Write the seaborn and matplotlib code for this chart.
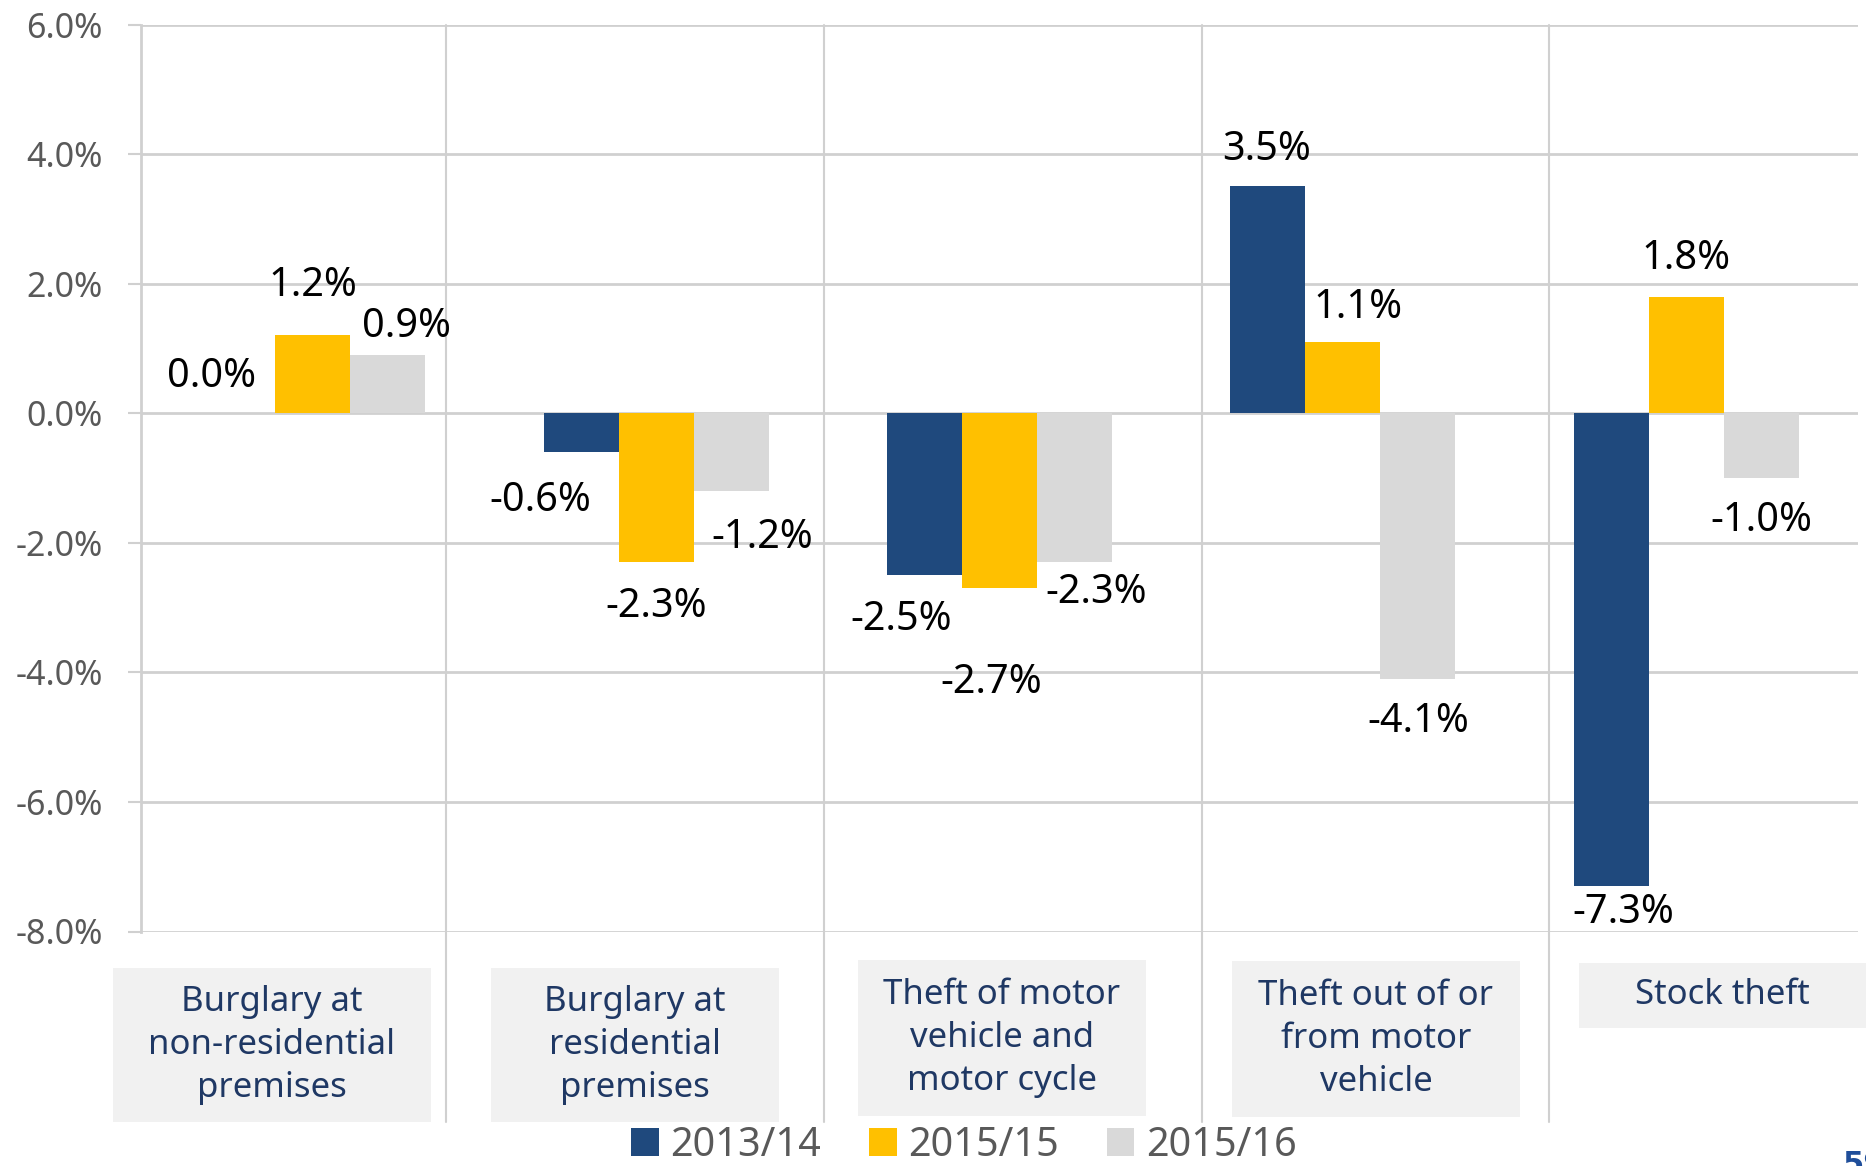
import matplotlib
matplotlib.use("Agg")
import matplotlib.pyplot as plt
import matplotlib.transforms as mtransforms
from matplotlib.patches import Rectangle, Patch
import pandas as pd
import seaborn as sns

# ---- data -------------------------------------------------------------
categories = [
    "Burglary at\nnon-residential\npremises",
    "Burglary at\nresidential\npremises",
    "Theft of motor\nvehicle and\nmotor cycle",
    "Theft out of or\nfrom motor\nvehicle",
    "Stock theft",
]
years = ["2013/14", "2015/15", "2015/16"]
change_2013_14 = [0.0, -0.6, -2.5, 3.5, -7.3]
change_2015_15 = [1.2, -2.3, -2.7, 1.1, 1.8]
change_2015_16 = [0.9, -1.2, -2.3, -4.1, -1.0]
y_ticks = [-8, -6, -4, -2, 0, 2, 4, 6]

# ---- styling ----------------------------------------------------------
colors = ["#1F497D", "#FFC000", "#D9D9D9"]
grid_color = "#D0D0D0"
tick_color = "#595959"
cat_text_color = "#1F3864"
box_color = "#F1F1F1"
FONT = "Noto Sans"

W, H = 1866, 1166
DPI = 100

# label nudges (pixels) relative to the end of each bar, per year then category
label_offsets = [
    [(-26, 36), (-41, -49), (-23, -45), (-1, 36), (12, -27)],
    [(0, 49), (0, -45), (-8, -95), (15, 34), (0, 38)],
    [(19, 28), (31, -47), (22, -31), (0, -43), (0, -43)],
]
# vertical table rules in data-x coordinates
separators = [0.388, 1.489, 2.590, 3.600]
# category boxes in pixel coords (x0, y0_top, x1, y1_bottom)
cat_boxes = [
    (113, 968, 431, 1122),
    (491, 968, 779, 1122),
    (858, 960, 1146, 1116),
    (1232, 961, 1520, 1117),
    (1579, 963, 1866, 1028),
]

sns.set_theme(style="white")
plt.rcParams["font.family"] = [FONT, "DejaVu Sans"]

df = pd.DataFrame({
    "category": categories * 3,
    "year": [years[0]] * 5 + [years[1]] * 5 + [years[2]] * 5,
    "value": change_2013_14 + change_2015_15 + change_2015_16,
})

fig = plt.figure(figsize=(W / DPI, H / DPI), dpi=DPI)
ax_left, ax_right, ax_top, ax_bottom = 141, 1858, 24.5, 931.5
ax = fig.add_axes([ax_left / W, (H - ax_bottom) / H,
                   (ax_right - ax_left) / W, (ax_bottom - ax_top) / H])

sns.barplot(data=df, x="category", y="value", hue="year", order=categories,
            hue_order=years, palette=colors, saturation=1, width=0.655,
            linewidth=0, ax=ax, legend=False, zorder=3)

ax.set_xlim(-0.5, 4.5)
ax.set_ylim(-8, 6)
ax.set_yticks(y_ticks)
ax.set_yticklabels([f"{t:.1f}%" for t in y_ticks])
ax.set_xticks([])
ax.set_xlabel("")
ax.set_ylabel("")
ax.yaxis.grid(True, color=grid_color, linewidth=2)
ax.set_axisbelow(True)
ax.tick_params(axis="y", length=9.4, width=1.5, color=grid_color,
               pad=18, labelsize=24.5, labelcolor=tick_color, left=True)
for side in ["top", "right", "bottom"]:
    ax.spines[side].set_visible(False)
ax.spines["left"].set_color(grid_color)
ax.spines["left"].set_linewidth(2)

# vertical separators reaching down into the category area
trans = mtransforms.blended_transform_factory(ax.transData, ax.transAxes)
sep_bottom = (ax_bottom - 1122) / (ax_bottom - ax_top)
for sx in separators:
    ax.plot([sx, sx], [1, sep_bottom], transform=trans, color=grid_color,
            linewidth=1.5, clip_on=False, zorder=1)

# value labels
for cont, offs in zip(ax.containers, label_offsets):
    for bar, (dx, dy) in zip(cont, offs):
        xc = bar.get_x() + bar.get_width() / 2
        val = bar.get_y() + bar.get_height() if bar.get_height() < 0 else bar.get_height()
        ax.annotate(f"{val:.1f}%", xy=(xc, val), xytext=(dx, dy),
                    textcoords="offset pixels", ha="center", va="center",
                    fontsize=28.5, color="black", annotation_clip=False, zorder=5)

# category boxes
for (x0, y0, x1, y1), label in zip(cat_boxes, categories):
    fig.patches.append(Rectangle((x0 / W, (H - y1) / H), (x1 - x0) / W, (y1 - y0) / H,
                                 transform=fig.transFigure, facecolor=box_color,
                                 edgecolor="none", zorder=0))
    fig.text((x0 + x1) / 2 / W, (H - (y0 + y1) / 2) / H, label, ha="center",
             va="center", fontsize=25, color=cat_text_color, linespacing=1.33)

# legend
handles = [Patch(facecolor=c, edgecolor="none") for c in colors]
fig.legend(handles, years, loc="center", bbox_to_anchor=(964 / W, (H - 1146) / H),
           ncol=3, frameon=False, fontsize=28.5, labelcolor=tick_color,
           handlelength=0.7, handleheight=0.7, handletextpad=0.3,
           columnspacing=1.2, borderpad=0, borderaxespad=0)

# page number
fig.text(1843 / W, (H - 1150) / H, "59", ha="left", va="top", fontsize=22,
         fontweight="bold", color="#1F4E9A", family=["DejaVu Sans"])

fig.savefig("out.png", dpi=DPI)
